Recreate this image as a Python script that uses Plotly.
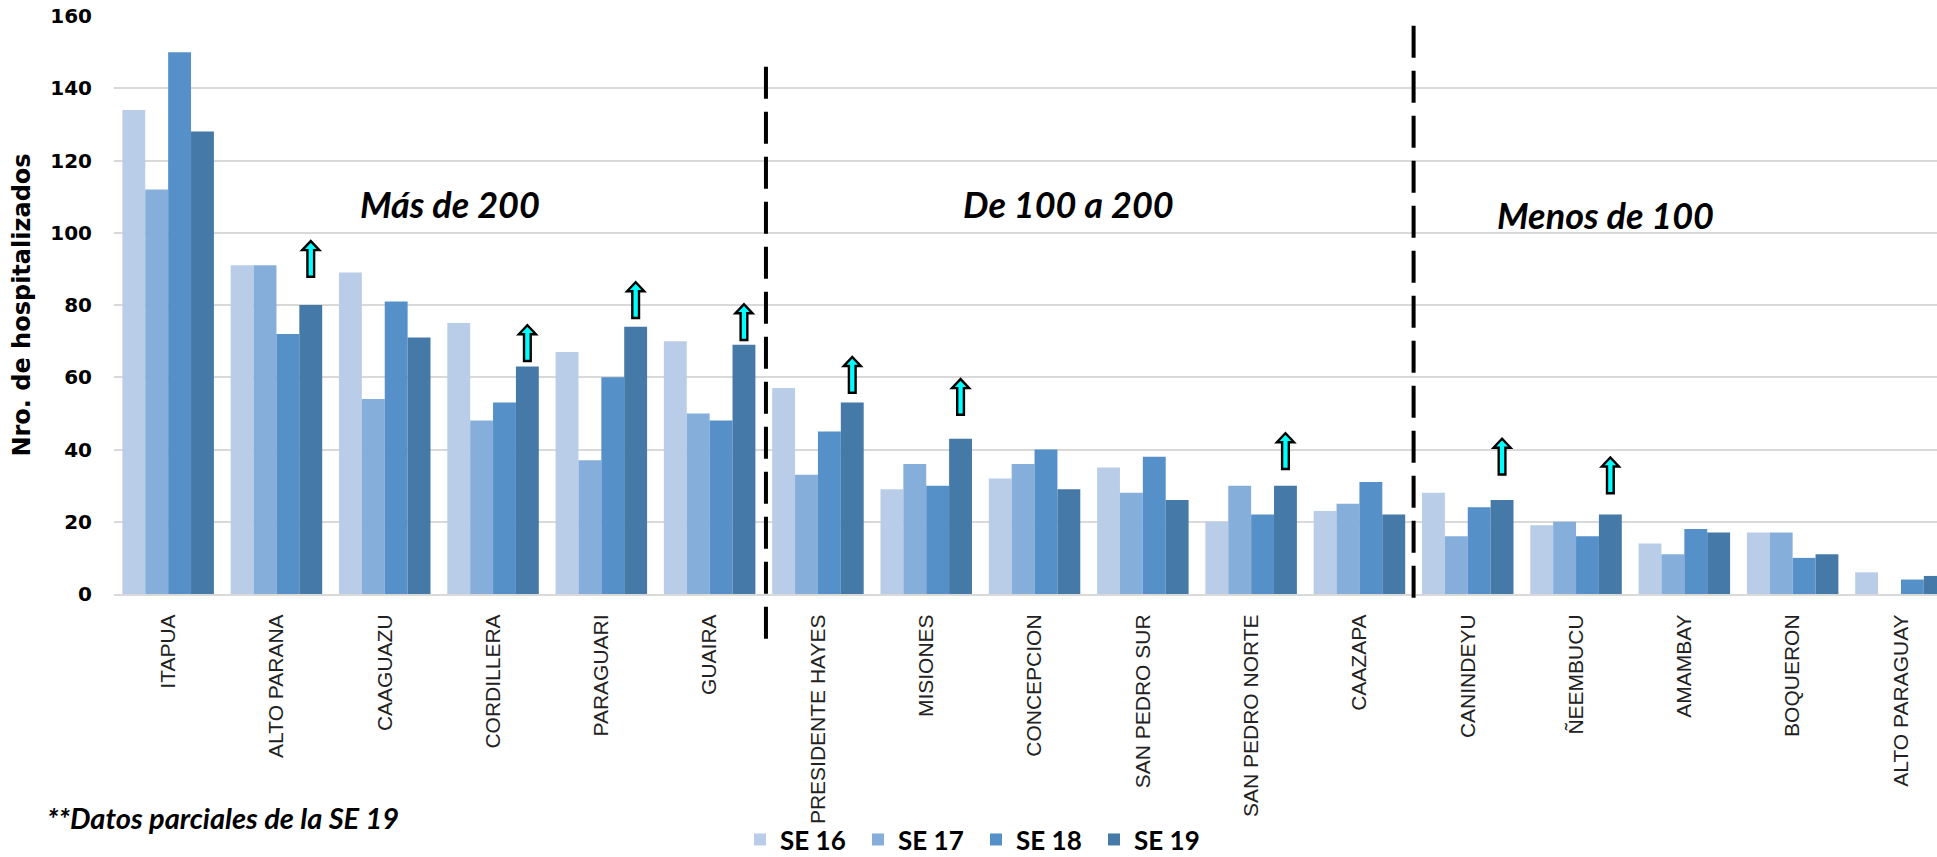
import plotly.graph_objects as go

regions = ["ITAPUA", "ALTO PARANA", "CAAGUAZU", "CORDILLERA", "PARAGUARI", "GUAIRA",
           "PRESIDENTE HAYES", "MISIONES", "CONCEPCION", "SAN PEDRO SUR", "SAN PEDRO NORTE",
           "CAAZAPA", "CANINDEYU", "ÑEEMBUCU", "AMAMBAY", "BOQUERON", "ALTO PARAGUAY"]

se16 = [134, 91, 89, 75, 67, 70, 57, 29, 32, 35, 20, 23, 28, 19, 14, 17, 6]
se17 = [112, 91, 54, 48, 37, 50, 33, 36, 36, 28, 30, 25, 16, 20, 11, 17, 0]
se18 = [150, 72, 81, 53, 60, 48, 45, 30, 40, 38, 22, 31, 24, 16, 18, 10, 4]
se19 = [128, 80, 71, 63, 74, 69, 53, 43, 29, 26, 30, 22, 26, 22, 17, 11, 5]

series_names = ["SE 16", "SE 17", "SE 18", "SE 19"]
series_values = [se16, se17, se18, se19]
series_colors = ["#B9CDE8", "#85AEDB", "#5591C8", "#4579A8"]

# regions with increase arrows (drawn above the SE 19 bar) and the arrow base value
arrow_regions = ["ALTO PARANA", "CORDILLERA", "PARAGUARI", "GUAIRA", "PRESIDENTE HAYES",
                 "MISIONES", "SAN PEDRO NORTE", "CANINDEYU", "ÑEEMBUCU"]
arrow_base = [87.8, 64.5, 76.4, 70.3, 55.7, 49.6, 34.6, 33.1, 27.9]

# group separators (between category positions)
group_separators = [5.52, 11.5]
group_labels = ["Más de 200", "De 100 a 200", "Menos de 100"]
group_label_x = [2.6, 8.31, 13.27]
group_label_y = [108, 108, 105]

y_ticks = [0, 20, 40, 60, 80, 100, 120, 140, 160]

fig = go.Figure()
for name, vals, col in zip(series_names, series_values, series_colors):
    fig.add_trace(go.Bar(x=regions, y=vals, name=name, marker=dict(color=col, line=dict(width=0))))

BARGAP = 0.155
bar_w = (1 - BARGAP) / 4
se19_offset = -(1 - BARGAP) / 2 + 3.5 * bar_w

shapes = []
# increase arrows
hw, sw, length, head = 0.079, 0.031, 9.9, 2.5
for reg, yb in zip(arrow_regions, arrow_base):
    xc = regions.index(reg) + se19_offset
    ys = yb + length - head
    yt = yb + length
    path = (f"M {xc - sw},{yb} L {xc + sw},{yb} L {xc + sw},{ys} L {xc + hw},{ys} "
            f"L {xc},{yt} L {xc - hw},{ys} L {xc - sw},{ys} Z")
    shapes.append(dict(type="path", xref="x", yref="y", path=path,
                       fillcolor="#00FFFF", line=dict(color="black", width=2.4), layer="above"))

# dashed separators
sep_top = [0.912, 0.983]
sep_bottom = [-0.091, -0.024]
for xs, yt, yb in zip(group_separators, sep_top, sep_bottom):
    shapes.append(dict(type="line", xref="x", yref="paper", x0=xs, x1=xs, y0=yt, y1=yb,
                       line=dict(color="black", width=4, dash="32px,13px"), layer="above"))

annotations = []
for t, x, y in zip(group_labels, group_label_x, group_label_y):
    annotations.append(dict(text=t, x=x, y=y, xref="x", yref="y", showarrow=False,
                            xanchor="center", yanchor="middle",
                            font=dict(family="Lato", size=36, color="black", weight="bold", style="italic")))
annotations.append(dict(text="**Datos parciales de la SE 19", x=(45 - 114) / 1823, y=(594.3 - 818) / 578.3,
                        xref="paper", yref="paper", showarrow=False, xanchor="left", yanchor="middle",
                        font=dict(family="Lato", size=29, color="black", weight="bold", style="italic")))

fig.update_layout(
    width=1937, height=857,
    margin=dict(l=114, r=0, t=16, b=262.7, pad=0, autoexpand=False),
    paper_bgcolor="white", plot_bgcolor="white",
    barmode="group", bargap=BARGAP, bargroupgap=0,
    shapes=shapes, annotations=annotations,
    legend=dict(orientation="h", x=0.3434, xanchor="left", y=(594.3 - 840) / 578.3, yanchor="middle",
                bgcolor="rgba(0,0,0,0)", borderwidth=0,
                font=dict(family="Lato", size=26, color="black", weight="bold"),
                itemwidth=30, entrywidth=73, traceorder="normal"),
    xaxis=dict(type="category", range=[-0.5, 16.333], tickangle=-90, automargin=False,
               tickfont=dict(family="Liberation Sans", size=21, color="#222222"),
               showgrid=False, showline=True, linecolor="#D9D9D9", linewidth=2,
               ticks="", ticklabelstandoff=10, fixedrange=True),
    yaxis=dict(range=[0, 160], tickvals=y_ticks, showgrid=True, gridcolor="#D9D9D9", gridwidth=2,
               zeroline=False, showline=False, ticks="", ticklabelstandoff=21, automargin=False,
               fixedrange=True,
               tickfont=dict(family="DejaVu Sans", size=20, color="black", weight="bold"),
               title=dict(text="Nro. de hospitalizados", standoff=12,
                          font=dict(family="DejaVu Sans", size=24, color="black", weight="bold"))),
    showlegend=True,
)

fig.write_html("out.html", config={"displayModeBar": False},
               post_script="document.body.style.margin='0px';document.body.style.overflow='hidden';")
